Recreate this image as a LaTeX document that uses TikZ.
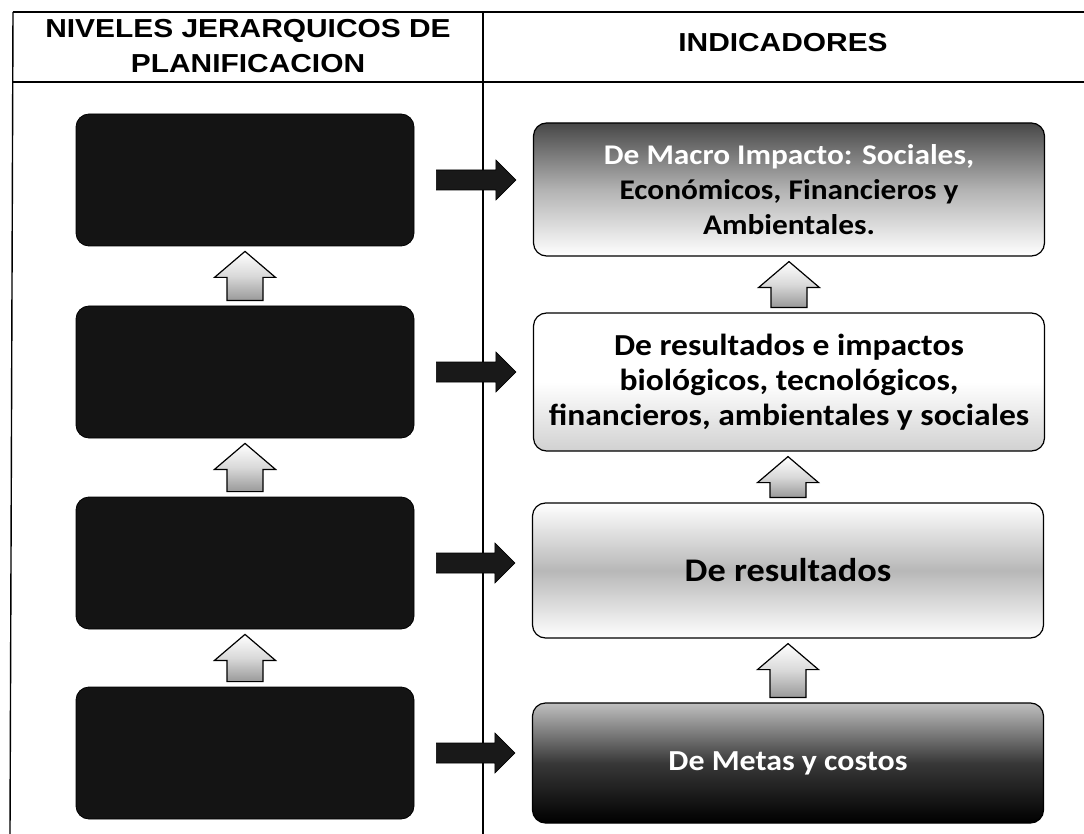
\documentclass[tikz,border=0pt]{standalone}
\usepackage{fontspec}
\setmainfont[FakeStretch=1.1]{Carlito}
\newfontfamily\headfont[FakeStretch=1.15]{Liberation Sans}
\usetikzlibrary{calc}
\tikzset{
  nivel/.style={draw=black, fill=black!92, rounded corners=13pt, minimum width=338pt, minimum height=132pt, line width=0.8pt},
  indicador/.style={draw=black, rounded corners=13pt, minimum width=511pt, line width=1.2pt, align=center, inner sep=0pt},
  encabezado/.style={font=\headfont\bfseries\fontsize{26}{35}\selectfont, align=center},
  subida/.style={draw=black, line width=1.2pt, top color=white, bottom color=black!40, middle color=black!15},
  paso/.style={draw=black, fill=black!90, line width=0.6pt},
  tabla/.style={line width=1.4pt}
}
\newcommand{\flechaarriba}[2]{%
  \path[subida] let \p1=(#1), \p2=(#2) in
    (\x1-18pt,\y1+5pt) -- (\x1+18pt,\y1+5pt) -- (\x1+18pt,\y2-31pt) -- (\x1+30.5pt,\y2-31pt)
    -- (\x1,\y2-5pt) -- (\x1-30.5pt,\y2-31pt) -- (\x1-18pt,\y2-31pt) -- cycle;}
\newcommand{\flechaderecha}[2]{%
  \path[paso] let \p1=(#1), \p2=(#2) in
    (\x1+22pt,\y1+10pt) -- (\x2-37pt,\y1+10pt) -- (\x2-37pt,\y1+20pt) -- (\x2-17pt,\y1)
    -- (\x2-37pt,\y1-20pt) -- (\x2-37pt,\y1-10pt) -- (\x1+22pt,\y1-10pt) -- cycle;}
\begin{document}
\begin{tikzpicture}[x=1pt,y=-1pt]
\useasboundingbox (0,0) rectangle (1084,834);
\draw[tabla] (13,12) -- (1084,12);
\draw[tabla] (13,82) -- (1084,82);
\draw[tabla] (13,12) -- (10,834);
\draw[tabla] (483,12) -- (483,834);
\node[encabezado] (titulo) at (248,46) {NIVELES JERARQUICOS DE\\PLANIFICACION};
\node[encabezado] (indic) at (783,43) {INDICADORES};
\node[nivel] (n1) at (245,180) {};
\node[nivel] (n2) at (245,372) {};
\node[nivel] (n3) at (245,563) {};
\node[nivel] (n4) at (245,753) {};
\node[indicador, minimum height=133pt, top color=black!72, bottom color=white, middle color=black!30,
  font=\bfseries\fontsize{28.5}{35}\selectfont] (i1) at (789,189.5)
  {{\color{white}De Macro Impacto: Sociales,}\\Económicos, Financieros y\\Ambientales.};
\node[indicador, minimum height=138pt, top color=white, bottom color=black!18, middle color=white,
  font=\bfseries\fontsize{30.5}{35}\selectfont] (i2) at (789,382)
  {De resultados e impactos\\biológicos, tecnológicos,\\financieros, ambientales y sociales};
\node[indicador, minimum height=135pt, top color=white, bottom color=white, middle color=black!28,
  font=\bfseries\fontsize{33}{38}\selectfont] (i3) at (788,570.5)
  {De resultados};
\node[indicador, minimum height=120pt, top color=black!25, bottom color=black, middle color=black!78,
  font=\bfseries\fontsize{29}{35}\selectfont] (i4) at (788,763)
  {\color{white}De Metas y costos};
\flechaarriba{n2.north}{n1.south}
\flechaarriba{n3.north}{n2.south}
\flechaarriba{n4.north}{n3.south}
\flechaarriba{i2.north}{i1.south}
\flechaarriba{i3.north}{i2.south}
\flechaarriba{i4.north}{i3.south}
\flechaderecha{n1.east}{i1.west}
\flechaderecha{n2.east}{i2.west}
\flechaderecha{n3.east}{i3.west}
\flechaderecha{n4.east}{i4.west}
\end{tikzpicture}
\end{document}
